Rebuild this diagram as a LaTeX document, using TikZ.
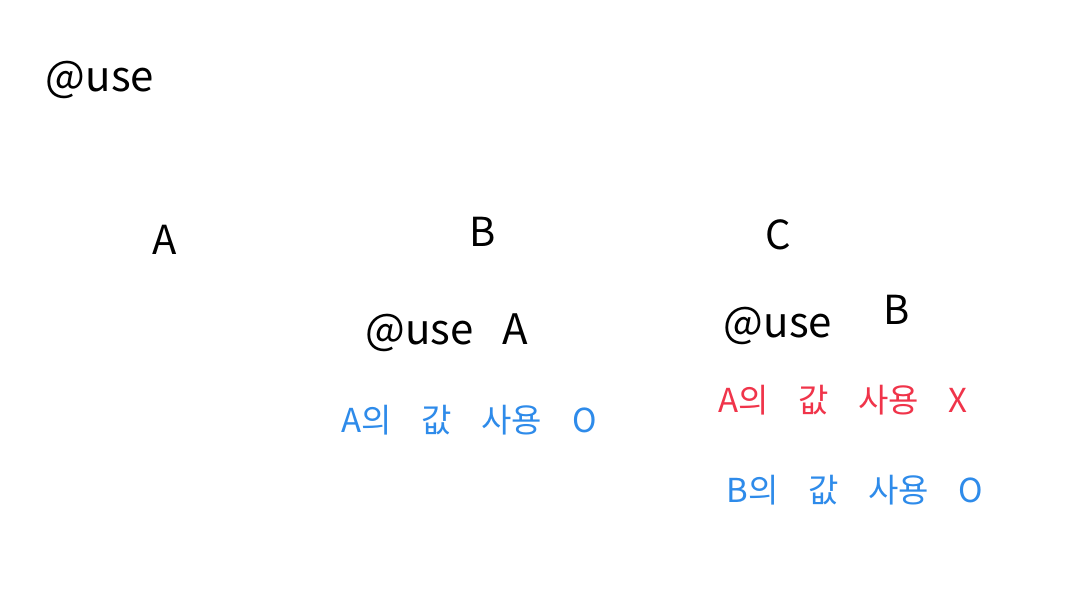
\documentclass[tikz,border=0pt]{standalone}
\usepackage{fontspec}
\setmainfont{Noto Sans CJK KR}
\definecolor{hblue}{HTML}{2E8BEA}
\definecolor{hred}{HTML}{F0344A}
\newcommand{\gap}{\hspace{0.9em}}
\tikzset{
  hw/.style={inner sep=0pt, anchor=center, font=\fontsize{40}{44}\selectfont},
  big/.style={hw, font=\fontsize{42}{46}\selectfont},
  note/.style={hw, font=\fontsize{33}{37}\selectfont},
}
\begin{document}
\begin{tikzpicture}[x=1pt,y=-1pt]
\useasboundingbox[fill=white] (0,0) rectangle (1073,597);
\node[big] (use0) at (100,80) {@use};
\node[hw] (a) at (165,240) {A};
\node[hw] (b) at (483,232) {B};
\node[hw] (c) at (778,235) {C};
\node[big] (useA) at (447,333) {@use\hspace{0.7em}A};
\node[big] (useB) at (778,326) {@use};
\node[hw] (bb) at (897,310) {B};
\node[note, text=hblue] (t1) at (469,420) {A의\gap 값\gap 사용\gap O};
\node[note, text=hred] (t2) at (843,400) {A의\gap 값\gap 사용\gap X};
\node[note, text=hblue] (t3) at (855,490) {B의\gap 값\gap 사용\gap O};
\end{tikzpicture}
\end{document}
